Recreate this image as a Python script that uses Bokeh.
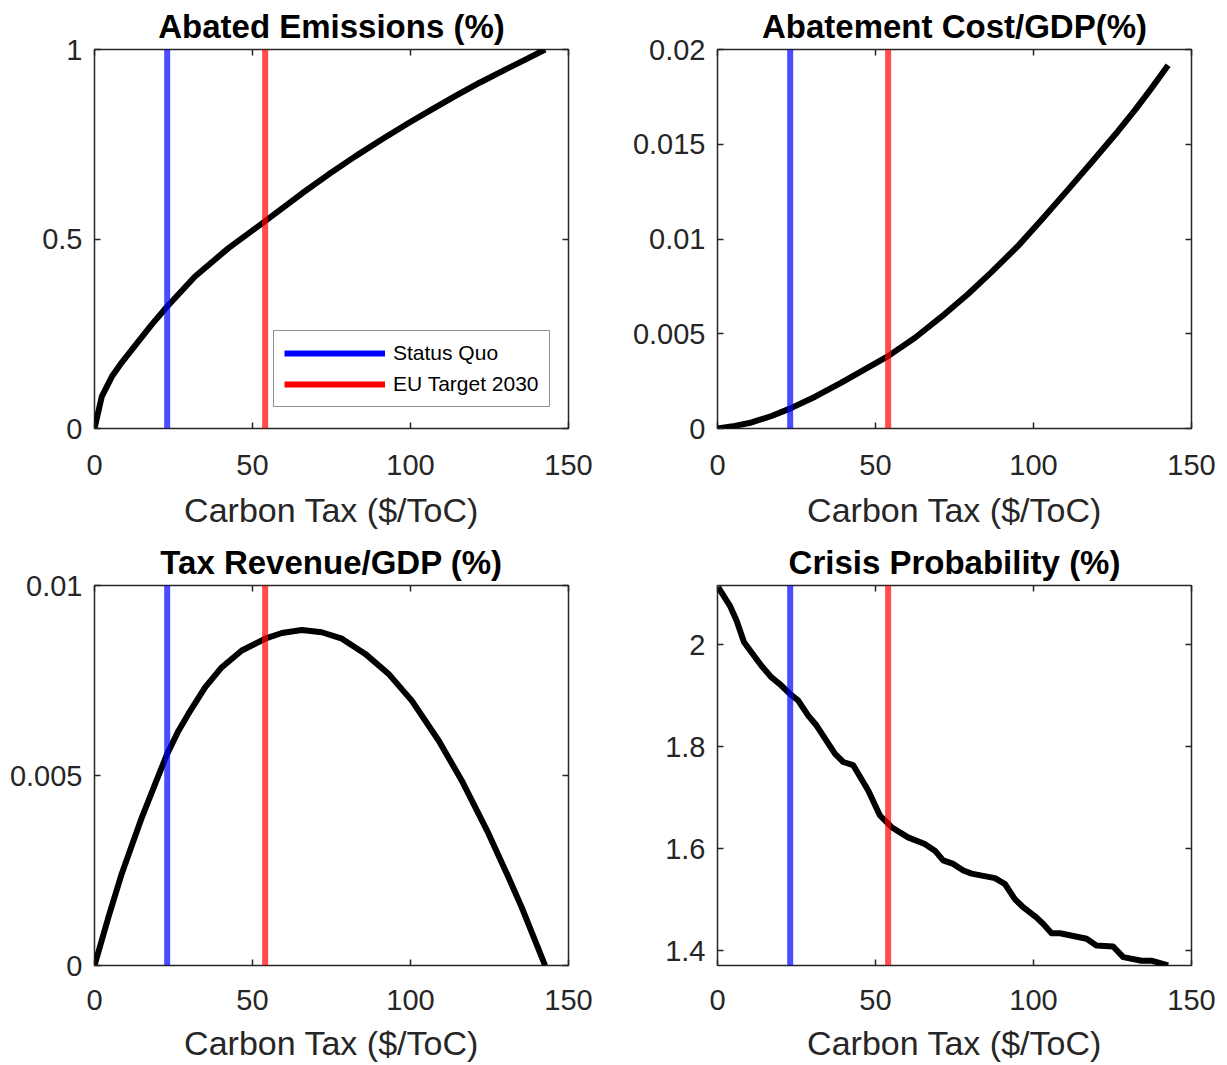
from bokeh.plotting import figure
from bokeh.models import (Range1d, FixedTicker, CustomJSTickFormatter, LinearAxis,
                          Span, Legend, LegendItem, ColumnDataSource)
from bokeh.layouts import gridplot
from bokeh.embed import file_html
from bokeh.resources import INLINE

# ---------------- data ----------------
status_quo_tax = 23.0
eu_target_tax = 54.0

x_ticks = [0, 50, 100, 150]

abated_tax = [0, 2.3, 5.5, 8.6, 13.9, 18.1, 23.0, 31.8, 42.4, 54.0, 65.6, 74.0, 82.5, 91.0, 99.4,
              106.8, 114.1, 122.0, 130.0, 136.5, 142.6]
abated = [0, 0.084, 0.137, 0.174, 0.230, 0.274, 0.322, 0.401, 0.476, 0.547, 0.620, 0.670, 0.718,
          0.763, 0.806, 0.842, 0.877, 0.913, 0.947, 0.974, 1.0]
abated_yticks = [0, 0.5, 1]

cost_tax = [0, 5.5, 10.8, 17.1, 22.9, 30.9, 39.2, 46.6, 54.0, 62.5, 70.9, 79.3, 86.7, 95.2, 102.5,
            111.0, 118.4, 126.8, 132.1, 137.3, 142.6]
cost = [0, 0.00014, 0.00032, 0.00066, 0.00105, 0.00168, 0.00242, 0.00312, 0.00382, 0.00479,
        0.00590, 0.00710, 0.00825, 0.00965, 0.01100, 0.01262, 0.01405, 0.01570, 0.01680, 0.01795,
        0.01917]
cost_yticks = [0, 0.005, 0.01, 0.015, 0.02]

revenue_tax = [0, 4.4, 8.6, 11.8, 15.0, 19.2, 23.0, 26.6, 29.7, 35.0, 40.3, 46.6, 54.0, 59.3, 65.6,
               71.9, 78.3, 85.7, 93.0, 100.4, 108.9, 116.2, 124.7, 131.0, 135.2, 142.6]
revenue = [0, 0.00127, 0.00241, 0.00316, 0.00390, 0.00478, 0.00557, 0.00618, 0.00662, 0.00732,
           0.00785, 0.00829, 0.00860, 0.00875, 0.00883, 0.00877, 0.00860, 0.00820, 0.00768,
           0.00697, 0.00592, 0.00487, 0.00347, 0.00232, 0.00153, 0]
revenue_yticks = [0, 0.005, 0.01]

crisis_tax = [0.2, 3.9, 6.0, 8.4, 13.9, 17.1, 19.7, 22.9, 25.5, 28.7, 31.3, 37.2, 39.8, 42.9, 47.7,
              51.4, 55.1, 60.3, 65.6, 68.8, 71.4, 74.6, 77.8, 80.4, 87.8, 90.9, 94.1, 96.7, 100.9,
              103.1, 105.7, 108.4, 116.8, 119.9, 125.2, 128.4, 134.2, 137.3, 142.6]
crisis = [2.113, 2.077, 2.048, 2.005, 1.959, 1.936, 1.923, 1.904, 1.891, 1.861, 1.842, 1.786, 1.770,
          1.764, 1.714, 1.665, 1.642, 1.622, 1.609, 1.596, 1.577, 1.570, 1.557, 1.551, 1.542, 1.531,
          1.501, 1.485, 1.465, 1.452, 1.434, 1.434, 1.423, 1.410, 1.408, 1.387, 1.380, 1.380, 1.371]
crisis_yticks = [1.4, 1.6, 1.8, 2.0]

titles = ["Abated Emissions (%)", "Abatement Cost/GDP(%)", "Tax Revenue/GDP (%)", "Crisis Probability (%)"]
x_label = "Carbon Tax ($/ToC)"
legend_labels = ["Status Quo", "EU Target 2030"]

# ---------------- style ----------------
FONT = "Liberation Sans"
AX = "#262626"
fmt = CustomJSTickFormatter(code="return tick.toString();")
blank = CustomJSTickFormatter(code="return '';")


def make_fig(title, fh, left, right, top, bottom, yr, yticks, tick_standoff, label_standoff):
    p = figure(frame_width=474, frame_height=fh, x_range=Range1d(0, 150), y_range=Range1d(*yr),
               output_backend="svg", toolbar_location=None, title=title,
               min_border_left=left, min_border_right=right,
               min_border_top=top, min_border_bottom=bottom)
    p.title.text_font = FONT
    p.title.text_font_size = "33px"
    p.title.text_font_style = "bold"
    p.title.text_color = "black"
    p.title.align = "center"
    p.title.standoff = 10
    p.grid.visible = False
    p.outline_line_color = AX
    p.outline_line_width = 1.5
    p.background_fill_color = "white"
    p.border_fill_color = "white"

    xa = p.xaxis[0]
    xa.ticker = FixedTicker(ticks=x_ticks)
    xa.formatter = fmt
    xa.axis_label = x_label
    xa.axis_label_text_font = FONT
    xa.axis_label_text_font_size = "34px"
    xa.axis_label_text_font_style = "normal"
    xa.axis_label_text_color = AX
    xa.axis_label_standoff = label_standoff
    xa.major_label_standoff = tick_standoff

    ya = p.yaxis[0]
    ya.ticker = FixedTicker(ticks=yticks)
    ya.formatter = fmt
    ya.major_label_standoff = 12

    for a in (xa, ya):
        a.major_label_text_font = FONT
        a.major_label_text_font_size = "29px"
        a.major_label_text_color = AX
        a.axis_line_color = None
        a.major_tick_in = 6
        a.major_tick_out = 0
        a.major_tick_line_color = AX
        a.major_tick_line_width = 1.5
        a.minor_tick_line_color = None

    # mirrored ticks (box on)
    ra = LinearAxis(ticker=FixedTicker(ticks=yticks), formatter=blank)
    ta = LinearAxis(ticker=FixedTicker(ticks=x_ticks), formatter=blank)
    for a in (ra, ta):
        a.major_label_text_font_size = "0px"
        a.major_label_standoff = 0
        a.axis_line_color = None
        a.major_tick_in = 6
        a.major_tick_out = 0
        a.major_tick_line_color = AX
        a.major_tick_line_width = 1.5
        a.minor_tick_line_color = None
    p.add_layout(ra, "right")
    p.add_layout(ta, "above")

    p.add_layout(Span(location=status_quo_tax, dimension="height", line_color="blue",
                      line_alpha=0.7, line_width=6))
    p.add_layout(Span(location=eu_target_tax, dimension="height", line_color="red",
                      line_alpha=0.7, line_width=6))
    return p


p1 = make_fig(titles[0], 379, 94, 30, 48, 108, (0, 1), abated_yticks, 26, 13)
p2 = make_fig(titles[1], 379, 119, 26, 48, 108, (0, 0.02), cost_yticks, 26, 13)
p3 = make_fig(titles[2], 380, 94, 30, 48, 90, (0, 0.01), revenue_yticks, 24, 11)
p4 = make_fig(titles[3], 380, 119, 26, 48, 90, (1.3706, 2.1164), crisis_yticks, 24, 11)

for p, xs, ys in ((p1, abated_tax, abated), (p2, cost_tax, cost),
                  (p3, revenue_tax, revenue), (p4, crisis_tax, crisis)):
    p.line(xs, ys, line_color="black", line_width=6, line_join="round")

# legend proxies (opaque swatches, like the reference); NaN point draws nothing in the frame
proxy = ColumnDataSource(data=dict(x=[float("nan")], y=[float("nan")]))
lb = p1.line("x", "y", source=proxy, line_color="blue", line_width=6)
lr = p1.line("x", "y", source=proxy, line_color="red", line_width=6)
legend = Legend(items=[LegendItem(label=legend_labels[0], renderers=[lb]),
                       LegendItem(label=legend_labels[1], renderers=[lr])],
                location=(179, 21), margin=0, padding=10, spacing=7,
                glyph_width=101, glyph_height=22, label_height=22, label_standoff=8,
                label_text_font=FONT, label_text_font_size="21px",
                label_text_color="black",
                border_line_color=AX, border_line_width=1.5, background_fill_alpha=1.0)
p1.add_layout(legend)

grid = gridplot([[p1, p2], [p3, p4]], toolbar_location=None)

open("out.html", "w").write(file_html(grid, INLINE))
